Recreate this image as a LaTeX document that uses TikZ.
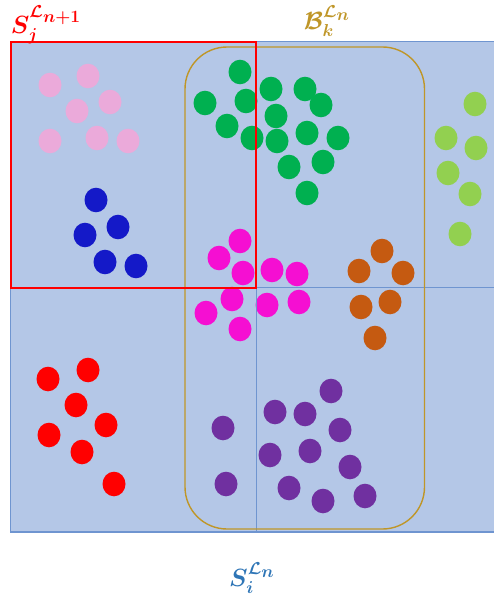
\documentclass[tikz,border=0pt]{standalone}
\usepackage{amsmath}
\begin{document}
\begin{tikzpicture}[x=1pt,y=-1pt,
  lbl/.style={font=\fontsize{24}{28}\selectfont\boldmath}]
\definecolor{bgblue}{RGB}{180,199,231}
\definecolor{edgeblue}{RGB}{111,149,208}
\definecolor{gold}{RGB}{191,150,40}
\definecolor{labblue}{RGB}{46,117,182}
\definecolor{cpink}{RGB}{235,170,218}
\definecolor{cdblue}{RGB}{20,25,200}
\definecolor{cgreen}{RGB}{0,176,80}
\definecolor{clgreen}{RGB}{146,208,80}
\definecolor{cmag}{RGB}{245,15,210}
\definecolor{corange}{RGB}{197,90,17}
\definecolor{cred}{RGB}{255,0,0}
\definecolor{cpurple}{RGB}{112,48,160}
\useasboundingbox (0,0) rectangle (494,599);
% background region
\fill[bgblue] (10.5,41.5) rectangle (500,532);
% dots
\def\dots#1#2{\foreach \x/\y in {#2} {\fill[#1] (\x,\y) ellipse [x radius=11.5, y radius=12.3];}}
\dots{cpink}{50/85, 88/76, 77/111, 110/102, 50/141, 97/138, 128/141}
\dots{cdblue}{96/200, 118/227, 85/235, 105/262, 136/266}
\dots{cgreen}{240/72, 205/103, 246/101, 227/126, 252/138, 271/89, 305/89, 321/105, 276/116, 277/141, 307/133, 338/138, 289/167, 323/162, 307/193}
\dots{clgreen}{475/104, 446/138, 476/148, 448/173, 470/194, 460/234}
\dots{cmag}{240/241, 219/258, 243/273, 272/270, 297/274, 232/299, 206/313, 267/305, 299/302, 240/329}
\dots{corange}{382/251, 359/271, 403/273, 361/307, 390/302, 375/338}
\dots{cred}{48/379, 88/370, 76/405, 106/425, 49/435, 82/452, 114/484}
\dots{cpurple}{331/391, 275/412, 305/414, 223/428, 340/430, 270/455, 310/451, 350/467, 226/484, 289/488, 323/501, 365/496}
% grid lines
\draw[edgeblue, line width=1pt] (256,41.5) -- (256,532);
\draw[edgeblue, line width=1pt] (10.5,287.5) -- (500,287.5);
\draw[edgeblue, line width=1.5pt] (500,41.5) -- (10.5,41.5) -- (10.5,532) -- (500,532);
% gold rounded rectangle
\draw[gold, line width=1.4pt, rounded corners=42pt] (185,47) rectangle (424.5,529);
% red rectangle
\draw[cred, line width=2pt] (11,42.5) rectangle (256,287.5);
% labels
\node[lbl, text=cred] (lj) at (46,25) {$S_j^{\mathcal{L}_{\scriptstyle n+1}}$};
\node[lbl, text=gold] (lk) at (327,21) {$\mathcal{B}_k^{\mathcal{L}_{\scriptstyle n}}$};
\node[lbl, text=labblue] (li) at (252,578) {$S_i^{\mathcal{L}_{\scriptstyle n}}$};
\end{tikzpicture}
\end{document}
